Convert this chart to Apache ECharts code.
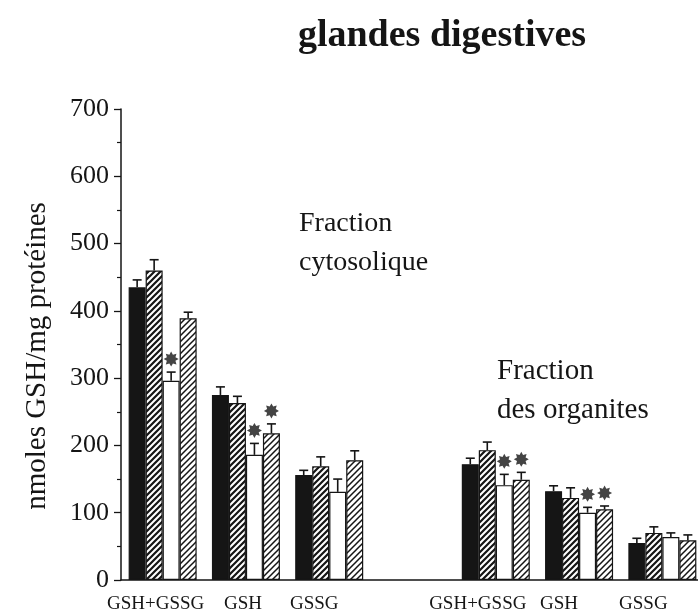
<!DOCTYPE html>
<html>
<head>
<meta charset="utf-8">
<script src="https://cdn.jsdelivr.net/npm/echarts@6/dist/echarts.min.js"></script>
<style>
  html, body { margin: 0; padding: 0; background: #fff; }
  #chart { width: 698px; height: 612px; }
</style>
</head>
<body>
<div id="chart"></div>
<script>
// Category labels along the x axis (index 3 is the blank gap between fractions)
const categories = ['GSH+GSSG', 'GSH', 'GSSG', '', 'GSH+GSSG', 'GSH', 'GSSG'];

// Mean values (nmoles GSH / mg protéines) for the four lots
const lotA = [435, 275, 156, null, 172, 132, 55];
const lotB = [460, 263, 169, null, 193, 122, 70];
const lotC = [296, 186, 131, null, 141, 100, 64];
const lotD = [389, 218, 178, null, 149, 105, 59];

// Standard errors
const errA = [11, 12, 7, null, 9, 8, 7];
const errB = [16, 10, 14, null, 12, 15, 9];
const errC = [13, 17, 19, null, 16, 8, 6];
const errD = [9, 14, 14, null, 11, 5, 8];

// Significant differences (1 = marked with a star)
const sigC = [1, 1, 0, 0, 1, 1, 0];
const sigD = [0, 1, 0, 0, 1, 1, 0];

const yTicks = [0, 100, 200, 300, 400, 500, 600, 700];

const SERIF = '"Liberation Serif", "Times New Roman", serif';
const BAR_W = 17;
const INK = '#151515';

function hatch(lineWidth) {
  const c = document.createElement('canvas');
  const s = 6;
  c.width = s; c.height = s;
  const g = c.getContext('2d');
  g.fillStyle = '#fff';
  g.fillRect(0, 0, s, s);
  g.strokeStyle = INK;
  g.lineWidth = lineWidth;
  g.beginPath();
  g.moveTo(-1, s + 1); g.lineTo(s + 1, -1);
  g.moveTo(-1, 1); g.lineTo(1, -1);
  g.moveTo(s - 1, s + 1); g.lineTo(s + 1, s - 1);
  g.stroke();
  return { image: c, repeat: 'repeat' };
}

const lots = [
  { name: 'lot A', values: lotA, errs: errA, color: INK },
  { name: 'lot B', values: lotB, errs: errB, color: hatch(2.2) },
  { name: 'lot C', values: lotC, errs: errC, color: '#ffffff' },
  { name: 'lot D', values: lotD, errs: errD, color: hatch(1.5) }
];

// per-label horizontal nudges (px, positive = left)
const labelShift = [7, 3, 15, 0, 18, 20, 19];
const rich = {};
labelShift.forEach((s, i) => {
  rich['c' + i] = {
    fontFamily: SERIF, fontSize: 19, color: INK,
    padding: [0, 2 * s, 0, 0]
  };
});

const series = [];
lots.forEach((lot, k) => {
  series.push({
    name: lot.name,
    type: 'bar',
    barWidth: BAR_W,
    barGap: '0%',
    data: lot.values,
    itemStyle: { color: lot.color, borderColor: INK, borderWidth: 1.2 },
    silent: true,
    z: 2
  });
});

lots.forEach((lot, k) => {
  const data = [];
  lot.values.forEach((v, i) => {
    if (v != null) data.push([i, v, v + lot.errs[i]]);
  });
  series.push({
    type: 'custom',
    data: data,
    z: 3,
    silent: true,
    renderItem: function (params, api) {
      const i = api.value(0);
      const p0 = api.coord([i, api.value(1)]);
      const p1 = api.coord([i, api.value(2)]);
      const x = p0[0] + (k - 1.5) * BAR_W;
      const st = { stroke: INK, lineWidth: 1.6 };
      return {
        type: 'group',
        children: [
          { type: 'line', shape: { x1: x, y1: p0[1], x2: x, y2: p1[1] }, style: st },
          { type: 'line', shape: { x1: x - 4.5, y1: p1[1], x2: x + 4.5, y2: p1[1] }, style: st }
        ]
      };
    }
  });
});

// eight-pointed star path
function starPath() {
  const pts = [];
  for (let j = 0; j < 16; j++) {
    const a = Math.PI * j / 8 - Math.PI / 2;
    const r = j % 2 === 0 ? 10 : 6.2;
    pts.push((10 + r * Math.cos(a)).toFixed(2) + ' ' + (10 + r * Math.sin(a)).toFixed(2));
  }
  return 'path://M' + pts.join(' L') + ' Z';
}
const STAR = starPath();

[[2, sigC], [3, sigD]].forEach(([k, sig]) => {
  const lot = lots[k];
  const data = [];
  sig.forEach((f, i) => {
    if (f) data.push([i, lot.values[i] + lot.errs[i]]);
  });
  series.push({
    type: 'scatter',
    data: data,
    symbol: STAR,
    symbolSize: 15,
    symbolOffset: [(k - 1.5) * BAR_W, -13],
    itemStyle: { color: INK },
    silent: true,
    z: 4
  });
});

const chart = echarts.init(document.getElementById('chart'), null, { renderer: 'canvas' });
chart.setOption({
  backgroundColor: '#ffffff',
  animation: false,
  title: {
    text: 'glandes digestives',
    left: 437,
    top: 12,
    textAlign: 'center',
    textStyle: { fontFamily: SERIF, fontWeight: 'bold', fontSize: 38, color: INK }
  },
  grid: { left: 121, width: 583, top: 109, height: 471, outerBoundsMode: 'none', containLabel: false },
  xAxis: {
    type: 'category',
    data: categories,
    axisLine: { lineStyle: { color: INK, width: 1.5 } },
    axisTick: { show: false },
    axisLabel: {
      margin: 15,
      interval: 0,
      formatter: (v, i) => v ? '{c' + i + '|' + v + '}' : '',
      rich: rich
    }
  },
  yAxis: {
    type: 'value',
    min: yTicks[0],
    max: yTicks[yTicks.length - 1],
    interval: 100,
    splitLine: { show: false },
    axisLine: { show: true, lineStyle: { color: INK, width: 1.5 } },
    axisTick: { show: true, length: 7, lineStyle: { color: INK, width: 1.3 } },
    minorTick: { show: true, splitNumber: 2, length: 4, lineStyle: { color: INK, width: 1.2 } },
    axisLabel: { margin: 12, fontFamily: SERIF, fontSize: 26, color: INK }
  },
  graphic: [
    {
      type: 'text',
      x: 37, y: 356,
      rotation: Math.PI / 2,
      style: {
        text: 'nmoles GSH/mg protéines',
        font: '29px ' + SERIF,
        fill: INK,
        align: 'center',
        verticalAlign: 'middle'
      }
    },
    {
      type: 'text',
      left: 299, top: 204,
      style: {
        text: 'Fraction\ncytosolique',
        font: '28px ' + SERIF,
        lineHeight: 39,
        fill: INK
      }
    },
    {
      type: 'text',
      left: 497, top: 352,
      style: {
        text: 'Fraction\ndes organites',
        font: '29px ' + SERIF,
        lineHeight: 39,
        fill: INK
      }
    }
  ],
  series: series
});
</script>
</body>
</html>
